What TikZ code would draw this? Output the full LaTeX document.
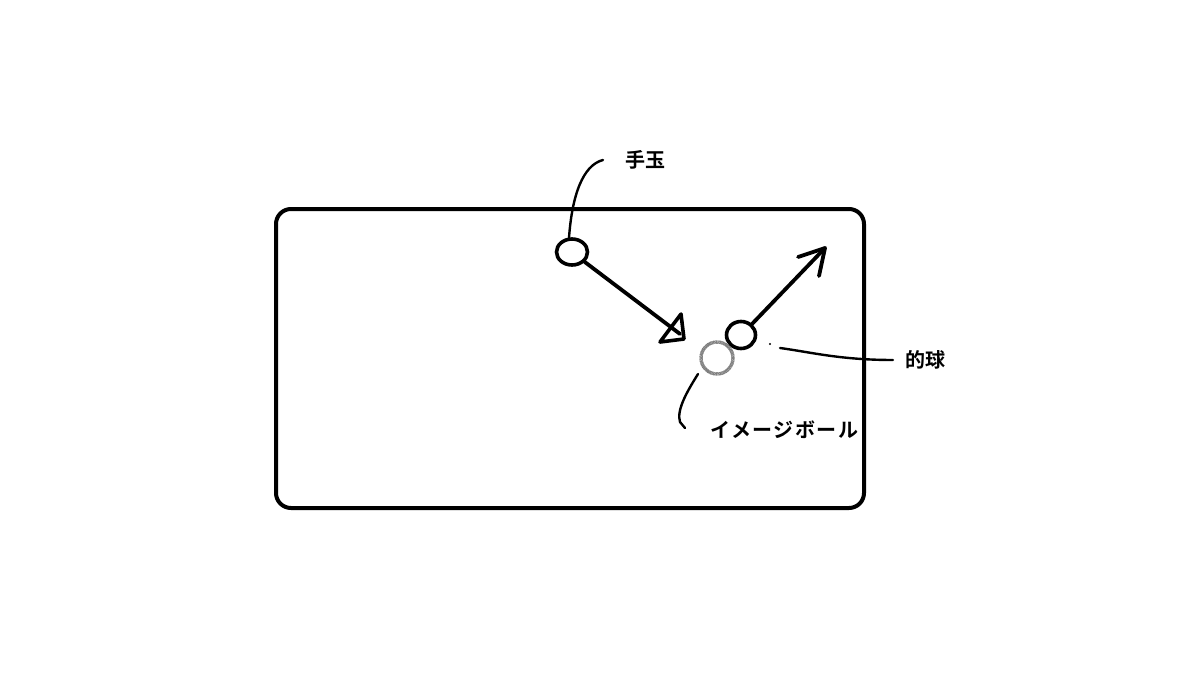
\documentclass[tikz,border=0pt]{standalone}
\usepackage{fontspec}
\newfontfamily\cjk{Noto Sans CJK JP}[BoldFont={Noto Sans CJK JP Bold}]
\newfontfamily\cjkwide{Noto Sans CJK JP}[BoldFont={Noto Sans CJK JP Bold},LetterSpace=7]
\usetikzlibrary{arrows.meta,shapes.geometric}
\begin{document}
\begin{tikzpicture}[x=1pt,y=-1pt,
  ball/.style={draw=black,line width=3.6pt},
  ghost/.style={draw=black!50,line width=3.4pt,dash pattern=on 1pt off 0.4pt},
  move/.style={line width=3.8pt,line cap=round},
  lead/.style={line width=2.4pt,line cap=round},
  lbl/.style={font=\cjk\bfseries\fontsize{20}{22}\selectfont,inner sep=0pt},
  lblw/.style={font=\cjkwide\bfseries\fontsize{20}{22}\selectfont,inner sep=0pt}]
\useasboundingbox (0,0) rectangle (1199,698);
\draw[line width=4pt,rounded corners=15pt] (276,209) rectangle (864,508);
% balls
\node[ball,ellipse,minimum width=31pt,minimum height=26pt,inner sep=0pt] (cue) at (572,252) {};
\node[ball,ellipse,minimum width=29pt,minimum height=27pt,inner sep=0pt] (obj) at (741,335) {};
\node[ghost,circle,minimum size=32pt,inner sep=0pt] (img) at (717,358) {};
% labels
\node[lbl] (lcue) at (645,160) {手玉};
\node[lbl] (lobj) at (925,360) {的球};
\node[lblw] (limg) at (784,430) {イメージボール};
% cue arrow with open triangle head
\coordinate (ct) at (680,334);
\draw[move] (cue.-38) -- (ct);
\coordinate (t1) at (660,342);
\coordinate (t2) at (684,339);
\coordinate (t3) at (681,314);
\draw[line width=3.6pt,line join=round] (t1) -- (t2) -- (t3) -- cycle;
% object arrow with V head
\coordinate (ot) at (825,248);
\draw[move] (obj.45) -- (ot);
\coordinate (v1) at (798,257);
\coordinate (v2) at (819,276);
\draw[move,line join=round] (v1) -- (ot) -- (v2);
% leaders
\coordinate (c0) at (603,160);
\draw[lead] (c0) .. controls (583,165) and (572,195) .. (569,238);
\coordinate (o0) at (780,348);
\coordinate (o1) at (893,360);
\draw[lead] (o0) .. controls (810,352) and (840,360) .. (o1);
\fill (770,344) circle (1.2pt);
\coordinate (i0) at (698,374);
\coordinate (i1) at (685,428);
\draw[lead] (i0) .. controls (688,390) and (676,410) .. (680,422) -- (i1);
\end{tikzpicture}
\end{document}
